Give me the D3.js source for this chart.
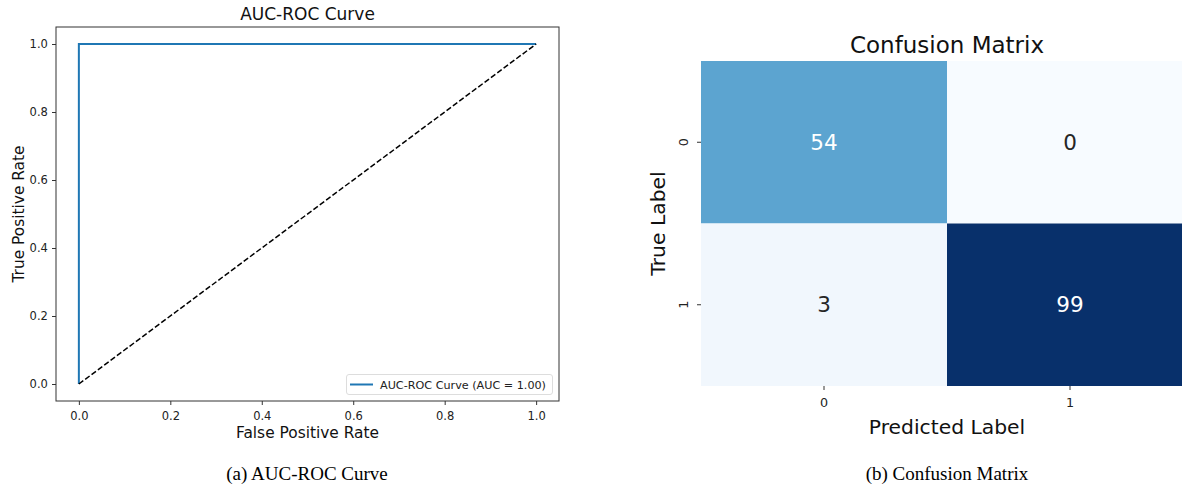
<!DOCTYPE html>
<html><head><meta charset="utf-8">
<script src="https://cdn.jsdelivr.net/npm/d3@7"></script>
<style>
body{margin:0;background:#fff;}
svg{display:block;}
text{font-family:"DejaVu Sans",sans-serif;}
.cap{font-family:"Liberation Serif","Times New Roman",serif;}
</style></head>
<body>
<svg id="c" width="1182" height="488"></svg>
<script>
// ROC data
const rocFPR = [0, 0, 1];
const rocTPR = [0, 1, 1];
const diagX = [0, 1];
const diagY = [0, 1];
const rocTicks = [0, 0.2, 0.4, 0.6, 0.8, 1.0];
const legendLabel = "AUC-ROC Curve (AUC = 1.00)";

// Confusion matrix data
const cmLabels = ["0", "1"];
const cmValues = [[54, 0], [3, 99]];
const bluesStops = ["#f7fbff","#deebf7","#c6dbef","#9ecae1","#6baed6","#4292c6","#2171b5","#08519c","#08306b"];

const svg = d3.select("#c");

// ---------- Left: ROC ----------
const L = {left:56, right:559, top:27, bottom:401};
const x = d3.scaleLinear().domain([-0.05, 1.05]).range([L.left, L.right]);
const y = d3.scaleLinear().domain([-0.05, 1.05]).range([L.bottom, L.top]);
const gL = svg.append("g");

const line = d3.line().x(d=>x(d[0])).y(d=>y(d[1]));
gL.append("path").datum(rocFPR.map((v,i)=>[v, rocTPR[i]]))
  .attr("d", line).attr("fill","none").attr("stroke","#1f77b4").attr("stroke-width",2);
gL.append("path").datum(diagX.map((v,i)=>[v, diagY[i]]))
  .attr("d", line).attr("fill","none").attr("stroke","#000").attr("stroke-width",1.5)
  .attr("stroke-dasharray","5.5,2.4");

const xAx = gL.append("g").attr("transform",`translate(0,${L.bottom})`)
  .call(d3.axisBottom(x).tickValues(rocTicks).tickFormat(d3.format(".1f")).tickSize(4).tickSizeOuter(0));
const yAx = gL.append("g").attr("transform",`translate(${L.left},0)`)
  .call(d3.axisLeft(y).tickValues(rocTicks).tickFormat(d3.format(".1f")).tickSize(4).tickSizeOuter(0));
[xAx,yAx].forEach(a=>{
  a.select(".domain").remove();
  a.selectAll("text").attr("font-family","DejaVu Sans").attr("font-size",11.5).attr("fill","#222");
  a.selectAll("line").attr("stroke","#333");
});
xAx.selectAll("text").attr("dy","1.05em");
yAx.selectAll("text").attr("dx","-0.1em");
gL.append("rect").attr("x",L.left).attr("y",L.top).attr("width",L.right-L.left).attr("height",L.bottom-L.top)
  .attr("fill","none").attr("stroke","#333").attr("stroke-width",1);

gL.append("text").attr("x",(L.left+L.right)/2).attr("y",20).attr("text-anchor","middle")
  .attr("font-size",17).attr("fill","#111").text("AUC-ROC Curve");
gL.append("text").attr("x",(L.left+L.right)/2).attr("y",438).attr("text-anchor","middle")
  .attr("font-size",15.4).attr("fill","#111").text("False Positive Rate");
gL.append("text").attr("transform",`translate(24,${(L.top+L.bottom)/2}) rotate(-90)`).attr("text-anchor","middle")
  .attr("font-size",15.4).attr("fill","#111").text("True Positive Rate");

// legend
const lg = gL.append("g");
lg.append("rect").attr("x",346.5).attr("y",374.5).attr("width",206).attr("height",20).attr("rx",2.5)
  .attr("fill","#fff").attr("stroke","#ddd").attr("stroke-width",1);
lg.append("line").attr("x1",350).attr("x2",373).attr("y1",384.5).attr("y2",384.5)
  .attr("stroke","#1f77b4").attr("stroke-width",2);
lg.append("text").attr("x",380).attr("y",388.5).attr("font-size",11.2).attr("fill","#222").text(legendLabel);

svg.append("text").attr("class","cap").attr("x",307).attr("y",480).attr("text-anchor","middle")
  .attr("font-size",19).attr("fill","#000").text("(a) AUC-ROC Curve");

// ---------- Right: Confusion matrix ----------
const R = {left:701, top:61, cell:246, cellH:162.5};
const cx = d3.scaleBand().domain(cmLabels).range([R.left, R.left+2*R.cell]);
const cy = d3.scaleBand().domain(cmLabels).range([R.top, R.top+2*R.cellH]);
const vmax = d3.max(cmValues.flat()), vmin = d3.min(cmValues.flat());
const blues = d3.piecewise(d3.interpolateRgb, bluesStops);
const color = d3.scaleSequential(blues).domain([vmin, vmax]);
const gR = svg.append("g");
const cells = [];
cmValues.forEach((row,i)=>row.forEach((v,j)=>cells.push({r:cmLabels[i], c:cmLabels[j], v})));
gR.selectAll("rect.cell").data(cells).join("rect").attr("class","cell")
  .attr("x",d=>cx(d.c)).attr("y",d=>cy(d.r)).attr("width",cx.bandwidth()).attr("height",cy.bandwidth())
  .attr("fill",d=>color(d.v));
gR.selectAll("text.val").data(cells).join("text").attr("class","val")
  .attr("x",d=>cx(d.c)+cx.bandwidth()/2).attr("y",d=>cy(d.r)+cy.bandwidth()/2)
  .attr("dy","0.36em").attr("text-anchor","middle").attr("font-size",21.5)
  .attr("fill",d=> (d.v - vmin)/(vmax-vmin) > 0.4 ? "#fff" : "#262626").text(d=>d.v);

const cxAx = gR.append("g").attr("transform",`translate(0,${R.top+2*R.cellH})`)
  .call(d3.axisBottom(cx).tickSize(4).tickSizeOuter(0));
const cyAx = gR.append("g").attr("transform",`translate(${R.left},0)`)
  .call(d3.axisLeft(cy).tickSize(4).tickSizeOuter(0));
[cxAx,cyAx].forEach(a=>{
  a.select(".domain").remove();
  a.selectAll("text").attr("font-family","DejaVu Sans").attr("font-size",12.7).attr("fill","#222");
  a.selectAll("line").attr("stroke","#333");
});
cxAx.selectAll("text").attr("dy","1.1em");
cyAx.selectAll(".tick text").attr("text-anchor","middle").attr("x",0).attr("dy",0)
  .attr("transform","translate(-17,0) rotate(-90)").attr("dominant-baseline","middle");

gR.append("text").attr("x",947).attr("y",53).attr("text-anchor","middle")
  .attr("font-size",23).attr("fill","#111").text("Confusion Matrix");
gR.append("text").attr("x",947).attr("y",434).attr("text-anchor","middle")
  .attr("font-size",20.3).attr("fill","#111").text("Predicted Label");
gR.append("text").attr("transform",`translate(665,${R.top+R.cellH}) rotate(-90)`).attr("text-anchor","middle")
  .attr("font-size",20.3).attr("fill","#111").text("True Label");

svg.append("text").attr("class","cap").attr("x",947).attr("y",480).attr("text-anchor","middle")
  .attr("font-size",19).attr("fill","#000").text("(b) Confusion Matrix");
</script>
</body></html>
